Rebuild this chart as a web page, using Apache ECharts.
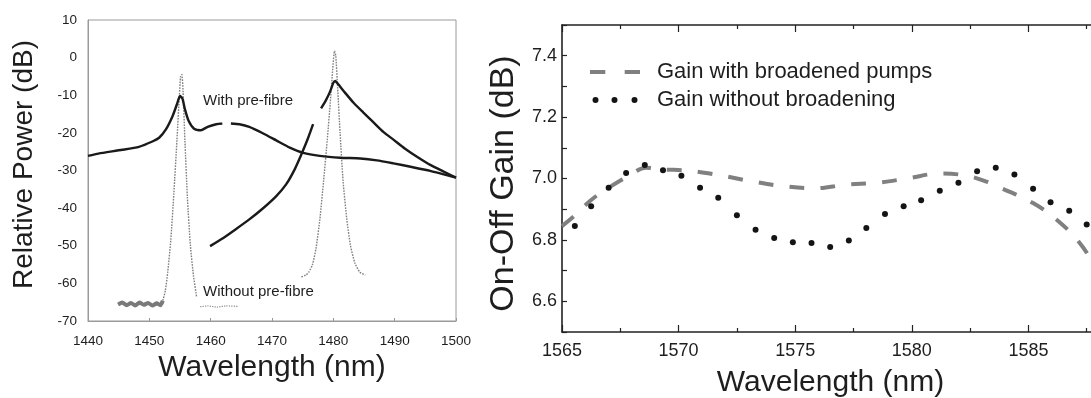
<!DOCTYPE html>
<html>
<head>
<meta charset="utf-8">
<script src="https://cdn.jsdelivr.net/npm/echarts@6/dist/echarts.min.js"></script>
<style>
  html, body { margin: 0; padding: 0; background: #fff; }
  #chart { width: 1091px; height: 398px; }
</style>
</head>
<body>
<div id="chart"></div>
<script>
// left panel: pump spectra, [wavelength nm, power dB]
const withPreFibreA = [
  [1440, -26.1], [1441.7, -25.5], [1445.6, -24.5], [1448.3, -23.7], [1450.5, -22.3],
  [1451.6, -21.3], [1452.7, -19.1], [1453.8, -15.5], [1454.5, -12.4], [1455.0, -10.2],
  [1455.4, -10.9], [1455.8, -13.7], [1456.4, -16.8], [1457.3, -18.9], [1458.4, -19.3],
  [1459.5, -18.4], [1460.9, -17.7], [1461.9, -17.5], [1462.6, null], [1463.3, -17.5],
  [1464.7, -17.7], [1466.3, -18.4], [1468.5, -20.1], [1470.7, -22.0], [1472.9, -23.9],
  [1475.1, -25.3], [1477.8, -26.1], [1481.1, -26.6], [1484.4, -26.8], [1487.1, -27.3],
  [1489.8, -28.1], [1492.6, -29.0], [1495.8, -30.1], [1500, -31.9]
];
const withPreFibreB = [
  [1459.9, -50.1], [1462.0, -48.0], [1464.1, -45.6], [1466.3, -43.0], [1468.5, -40.1],
  [1470.7, -36.8], [1472.3, -33.7], [1473.7, -29.7], [1474.8, -25.7], [1475.9, -21.3],
  [1476.7, -17.7], [1477.3, null], [1478.0, -13.5], [1478.8, -11.3], [1479.5, -8.9],
  [1480.0, -6.7], [1480.3, -6.2], [1480.8, -7.1], [1481.9, -9.3], [1483.3, -12.0],
  [1484.9, -14.6], [1486.6, -17.3], [1488.2, -19.8], [1489.8, -21.8], [1491.7, -24.2],
  [1493.7, -26.4], [1495.8, -28.5], [1498.0, -30.3], [1500, -31.9]
];
const withoutFloor = [
  [1444.9, -65.6], [1445.6, -65.1], [1446.3, -65.8], [1447.0, -65.2], [1447.7, -65.9],
  [1448.4, -65.1], [1449.1, -65.7], [1449.8, -65.2], [1450.5, -65.9], [1451.2, -65.3],
  [1451.8, -65.8], [1452.2, -64.6]
];
const withoutPeak1 = [
  [1452.2, -64.6], [1452.6, -62.0], [1453.0, -57.0], [1453.5, -48.5], [1454.0, -36.0],
  [1454.5, -22.0], [1454.9, -10.0], [1455.1, -5.0], [1455.3, -4.5], [1455.5, -9.0],
  [1455.8, -22.0], [1456.2, -37.0], [1456.7, -50.0], [1457.2, -58.0], [1457.7, -63.5]
];
const withoutTail = [
  [1458.3, -66.2], [1459.5, -66.0], [1461.0, -66.3], [1462.5, -66.0], [1464.4, -66.1]
];
const withoutPeak2 = [
  [1474.8, -58.3], [1475.5, -57.8], [1476.0, -57.0], [1476.6, -55.0], [1477.2, -50.5],
  [1477.8, -43.0], [1478.4, -33.0], [1479.0, -22.0], [1479.5, -12.0], [1479.9, -3.0],
  [1480.2, 1.8], [1480.4, 0.5], [1480.7, -8.0], [1481.1, -20.0], [1481.6, -33.0],
  [1482.2, -43.0], [1482.8, -50.0], [1483.5, -54.5], [1484.3, -57.0], [1485.2, -57.8]
];

// right panel: on-off gain, [wavelength nm, gain dB]
const gainBroadened = [
  [1565.0, 6.845], [1565.5, 6.876], [1566.25, 6.93], [1567.0, 6.97], [1567.9, 7.01],
  [1568.6, 7.035], [1569.2, 7.03], [1570.5, 7.025], [1571.8, 7.01], [1573.2, 6.99],
  [1574.5, 6.975], [1575.8, 6.968], [1577.2, 6.98], [1578.5, 6.986], [1579.8, 7.0],
  [1581.2, 7.016], [1582.3, 7.01], [1583.2, 6.99], [1583.8, 6.97], [1585.2, 6.92],
  [1586.3, 6.86], [1587.2, 6.79], [1587.8, 6.72], [1588.3, 6.65]
];
const gainUnbroadened = [
  [1565.55, 6.845], [1566.25, 6.91], [1567.0, 6.97], [1567.75, 7.018], [1568.55, 7.044],
  [1569.33, 7.027], [1570.12, 7.009], [1570.92, 6.97], [1571.7, 6.937], [1572.5, 6.88],
  [1573.3, 6.833], [1574.1, 6.806], [1574.9, 6.792], [1575.7, 6.79], [1576.5, 6.777],
  [1577.3, 6.798], [1578.05, 6.839], [1578.85, 6.884], [1579.65, 6.91], [1580.4, 6.929],
  [1581.2, 6.96], [1582.0, 6.986], [1582.8, 7.024], [1583.6, 7.035], [1584.4, 7.013],
  [1585.2, 6.967], [1585.95, 6.923], [1586.75, 6.895], [1587.5, 6.85]
];

const FONT = 'Liberation Sans, Arial, sans-serif';
const INK = '#1e1e1e';

const chart = echarts.init(document.getElementById('chart'));

function leftLine(data, color, width, type) {
  return {
    type: 'line', xAxisIndex: 0, yAxisIndex: 0, data: data,
    symbol: 'none', smooth: 0.2, connectNulls: false, silent: true,
    lineStyle: { color: color, width: width, type: type || 'solid' }
  };
}

const plain = function (v) { return String(v); };

const option = {
  animation: false,
  backgroundColor: '#fff',
  grid: [
    { left: 88, top: 20, width: 368, height: 301, show: true, borderColor: '#9a9a9a', borderWidth: 1,
      outerBoundsMode: 'none', containLabel: false },
    { left: 562, top: 25, width: 583, height: 307, outerBoundsMode: 'none', containLabel: false }
  ],
  xAxis: [
    {
      gridIndex: 0, type: 'value', min: 1440, max: 1500, interval: 10,
      axisLine: { show: true, onZero: false, lineStyle: { color: '#9a9a9a', width: 1 } },
      axisTick: { show: true, inside: true, length: 3, lineStyle: { color: '#9a9a9a' } },
      splitLine: { show: false },
      axisLabel: { color: INK, fontSize: 13.5, fontFamily: FONT, margin: 13, formatter: plain },
      name: 'Wavelength (nm)', nameLocation: 'middle', nameGap: 28,
      nameTextStyle: { color: INK, fontSize: 30, fontFamily: FONT, verticalAlign: 'top' }
    },
    {
      gridIndex: 1, type: 'value', min: 1565, max: 1590, interval: 5,
      axisLine: { show: true, onZero: false, lineStyle: { color: '#222', width: 1.6 } },
      axisTick: { show: true, inside: true, length: 7, lineStyle: { color: '#222', width: 1.2 } },
      minorTick: { show: true, splitNumber: 2, length: 4, lineStyle: { color: '#222', width: 1.2 } },
      splitLine: { show: false },
      axisLabel: {
        color: INK, fontSize: 18, fontFamily: FONT, margin: 10,
        formatter: function (v) { return v > 1586 ? '' : String(v); }
      },
      name: 'Wavelength (nm)', nameLocation: 'middle', nameGap: 36,
      nameTextStyle: { color: INK, fontSize: 30, fontFamily: FONT, verticalAlign: 'top', padding: [0, 46, 0, 0] }
    },
    {
      gridIndex: 1, type: 'value', position: 'top', min: 1565, max: 1590, interval: 5,
      axisLine: { show: true, onZero: false, lineStyle: { color: '#222', width: 1.6 } },
      axisTick: { show: true, inside: true, length: 7, lineStyle: { color: '#222', width: 1.2 } },
      minorTick: { show: true, splitNumber: 2, length: 4, lineStyle: { color: '#222', width: 1.2 } },
      splitLine: { show: false },
      axisLabel: { show: false }
    }
  ],
  yAxis: [
    {
      gridIndex: 0, type: 'value', min: -70, max: 10, interval: 10,
      axisLine: { show: true, onZero: false, lineStyle: { color: '#9a9a9a', width: 1 } },
      axisTick: { show: false },
      splitLine: { show: false },
      axisLabel: { color: INK, fontSize: 13.5, fontFamily: FONT, margin: 11, formatter: plain },
      name: 'Relative Power (dB)', nameLocation: 'middle', nameGap: 50,
      nameTextStyle: { color: INK, fontSize: 28, fontFamily: FONT, padding: [0, 0, 0, 12] }
    },
    {
      gridIndex: 1, type: 'value', min: 6.5, max: 7.5, interval: 0.1,
      axisLine: { show: true, onZero: false, lineStyle: { color: '#222', width: 1.6 } },
      axisTick: { show: true, inside: true, length: 5, lineStyle: { color: '#222', width: 1.2 } },
      splitLine: { show: false },
      axisLabel: {
        color: INK, fontSize: 18, fontFamily: FONT, margin: 5,
        formatter: function (v) {
          return Math.round(v * 10) % 2 === 0 ? v.toFixed(1) : '';
        }
      },
      name: 'On-Off Gain (dB)', nameLocation: 'middle', nameGap: 39,
      nameTextStyle: { color: INK, fontSize: 34, fontFamily: FONT, padding: [0, 10, 0, 0] }
    }
  ],
  legend: {
    orient: 'vertical', left: 585, top: 56, itemGap: 6,
    itemWidth: 50, itemHeight: 6,
    textStyle: { color: INK, fontSize: 22, fontFamily: FONT, padding: [0, 0, 0, 12] },
    data: [
      { name: 'Gain with broadened pumps', icon: 'path://M0,0h15v4h-15z M34,0h15v4h-15z' },
      { name: 'Gain without broadening',
        icon: 'path://M0,3a3,3 0 1,0 6,0a3,3 0 1,0 -6,0z M19,3a3,3 0 1,0 6,0a3,3 0 1,0 -6,0z M39,3a3,3 0 1,0 6,0a3,3 0 1,0 -6,0z' }
    ]
  },
  graphic: [
    { type: 'text', left: 203, top: 93, silent: true,
      style: { text: 'With pre-fibre', fill: INK, font: '15px ' + FONT } },
    { type: 'text', left: 203, top: 284, silent: true,
      style: { text: 'Without pre-fibre', fill: INK, font: '15px ' + FONT } }
  ],
  series: [
    leftLine(withoutFloor, '#7a7a7a', 4),
    leftLine(withoutPeak1, '#808080', 1.4, [1.6, 1.2]),
    leftLine(withoutTail, '#8a8a8a', 1.2, 'dotted'),
    leftLine(withoutPeak2, '#808080', 1.4, [1.6, 1.2]),
    leftLine(withPreFibreA, '#1a1a1a', 2.4),
    leftLine(withPreFibreB, '#1a1a1a', 2.4),
    {
      name: 'Gain with broadened pumps', type: 'line', xAxisIndex: 1, yAxisIndex: 1,
      data: gainBroadened, symbol: 'none', smooth: 0.4, silent: true,
      itemStyle: { color: '#808080' },
      lineStyle: { color: '#808080', width: 4, type: [15, 16] }
    },
    {
      name: 'Gain without broadening', type: 'line', xAxisIndex: 1, yAxisIndex: 1,
      data: gainUnbroadened, symbol: 'circle', symbolSize: 6, showSymbol: true, silent: true,
      itemStyle: { color: '#141414' },
      lineStyle: { width: 0, opacity: 0 }
    }
  ]
};

chart.setOption(option);
</script>
</body>
</html>
